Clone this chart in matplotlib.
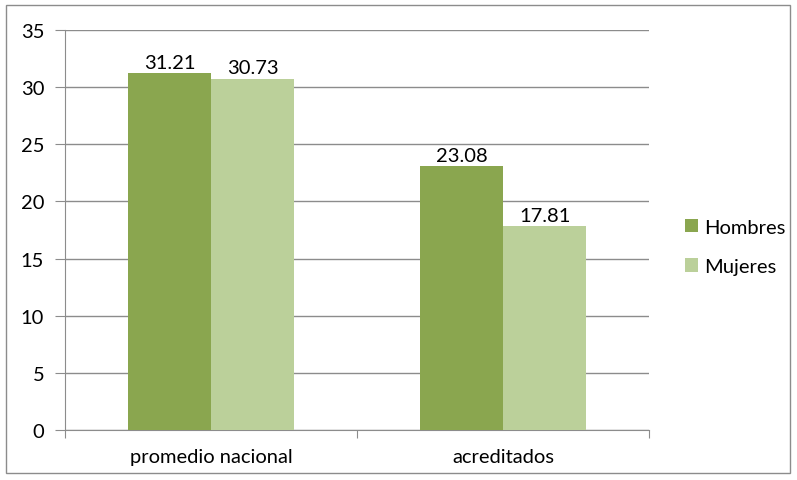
import numpy as np
import matplotlib.pyplot as plt
from matplotlib.patches import Rectangle

plt.rcParams['font.family'] = ['Lato', 'DejaVu Sans']

categories = ['promedio nacional', 'acreditados']
hombres = [31.21, 23.08]
mujeres = [30.73, 17.81]
series_names = ['Hombres', 'Mujeres']
colors = ['#8AA64F', '#BBD09A']
yticks = [0, 5, 10, 15, 20, 25, 30, 35]

fig = plt.figure(figsize=(7.97, 4.81), dpi=100)
ax = fig.add_axes([0.0816, 0.104, 0.7327, 0.8316])

# outer chart border
fig.patches.append(Rectangle((6 / 797, 7 / 481), 784 / 797, 468 / 481,
                             transform=fig.transFigure, fill=False,
                             edgecolor='#8c8c8c', linewidth=1.0))

x = np.arange(len(categories))
w = 0.285
b1 = ax.bar(x - w / 2, hombres, w, color=colors[0], label=series_names[0], zorder=3)
b2 = ax.bar(x + w / 2, mujeres, w, color=colors[1], label=series_names[1], zorder=3)

fs = 14.5
for bars, vals in ((b1, hombres), (b2, mujeres)):
    for rect, v in zip(bars, vals):
        ax.text(rect.get_x() + rect.get_width() / 2, v + 0.2, f'{v:.2f}',
                ha='center', va='bottom', fontsize=fs, color='black')

ax.set_xlim(-0.5, len(categories) - 0.5)
ax.set_ylim(0, 35)
ax.set_yticks(yticks)
ax.yaxis.grid(True, color='#8c8c8c', linewidth=1.0, zorder=0)
ax.set_axisbelow(True)

# category boundary ticks, labels at centres
ax.set_xticks(np.arange(len(categories) + 1) - 0.5)
ax.set_xticklabels([])
ax.set_xticks(x, minor=True)
ax.set_xticklabels(categories, minor=True, fontsize=fs)
ax.tick_params(axis='x', which='major', length=6, color='#8c8c8c', direction='out')
ax.tick_params(axis='x', which='minor', length=0, pad=13)
ax.tick_params(axis='y', length=7, color='#8c8c8c', labelsize=fs, pad=8)

for s in ['top', 'right']:
    ax.spines[s].set_visible(False)
for s in ['left', 'bottom']:
    ax.spines[s].set_color('#8c8c8c')

ax.legend(loc='center left', bbox_to_anchor=(1.031, 0.458), frameon=False,
          fontsize=fs, handlelength=0.65, handleheight=0.65,
          handletextpad=0.3, labelspacing=1.1)

fig.savefig('out.png', dpi=100)
